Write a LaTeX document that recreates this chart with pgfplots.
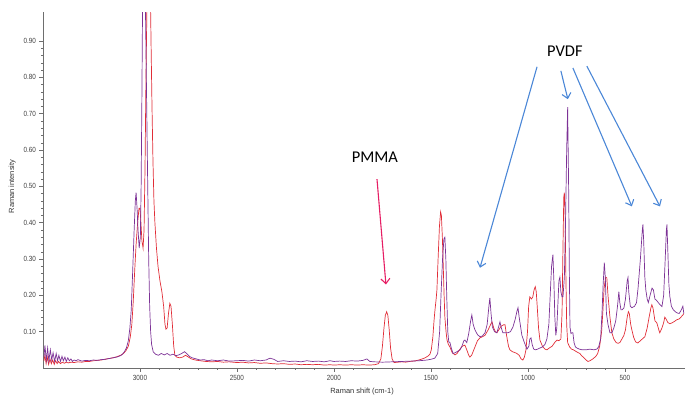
\documentclass[border=0pt]{standalone}
\usepackage{fontspec}
\setmainfont{Liberation Sans}
\newfontfamily\ticksfont[FakeStretch=0.85]{Liberation Sans}
\newfontfamily\annfont{Carlito}
\usepackage{pgfplots}
\pgfplotsset{compat=1.18}
\usetikzlibrary{arrows.meta}
\definecolor{specpurple}{RGB}{125,50,150}
\definecolor{specred}{RGB}{225,45,55}
\definecolor{arrowblue}{RGB}{75,135,215}
\definecolor{arrowpink}{RGB}{230,30,100}
\definecolor{axgray}{RGB}{110,110,110}

\pgfplotstableread{
x y
3495 0.020
3490 0.035
3484 0.012
3478 0.030
3471 0.010
3464 0.025
3457 0.012
3450 0.022
3442 0.010
3435 0.020
3427 0.012
3420 0.018
3410 0.012
3400 0.016
3390 0.013
3380 0.016
3370 0.014
3355 0.016
3340 0.015
3320 0.017
3300 0.016
3280 0.018
3260 0.018
3240 0.020
3220 0.021
3200 0.022
3180 0.024
3160 0.026
3140 0.028
3120 0.031
3100 0.035
3085 0.040
3072 0.048
3060 0.060
3050 0.085
3042 0.12
3035 0.18
3027 0.27
3020 0.34
3012 0.40
3005 0.44
3000 0.44
2995 0.40
2990 0.35
2984 0.33
2979 0.38
2974 0.55
2969 0.80
2964 1.00
2958 1.15
2953 1.20
2948 1.10
2943 0.90
2938 0.72
2933 0.57
2928 0.46
2923 0.40
2915 0.33
2907 0.28
2897 0.24
2887 0.21
2878 0.17
2871 0.12
2866 0.107
2860 0.11
2853 0.15
2846 0.178
2840 0.170
2833 0.12
2826 0.060
2820 0.035
2810 0.030
2795 0.028
2780 0.030
2765 0.035
2750 0.030
2735 0.025
2715 0.022
2690 0.020
2660 0.018
2630 0.017
2600 0.018
2570 0.016
2540 0.017
2500 0.015
2470 0.016
2440 0.014
2410 0.015
2380 0.013
2350 0.014
2320 0.012
2290 0.011
2260 0.012
2230 0.010
2200 0.011
2170 0.009
2140 0.010
2110 0.009
2080 0.010
2050 0.008
2020 0.009
2000 0.008
1970 0.009
1940 0.008
1910 0.009
1880 0.008
1850 0.009
1820 0.008
1790 0.009
1770 0.012
1758 0.025
1750 0.060
1742 0.110
1735 0.145
1728 0.155
1722 0.145
1715 0.105
1708 0.055
1700 0.025
1690 0.015
1670 0.016
1650 0.017
1630 0.016
1610 0.018
1590 0.019
1570 0.021
1550 0.024
1530 0.028
1515 0.033
1505 0.038
1498 0.050
1490 0.085
1484 0.130
1479 0.160
1473 0.190
1469 0.215
1463 0.300
1456 0.390
1450 0.430
1446 0.420
1441 0.360
1438 0.310
1432 0.200
1428 0.140
1422 0.100
1417 0.077
1410 0.065
1402 0.058
1390 0.042
1376 0.036
1365 0.040
1350 0.052
1338 0.060
1325 0.063
1315 0.050
1305 0.035
1299 0.030
1290 0.035
1275 0.055
1260 0.075
1247 0.083
1235 0.086
1221 0.090
1205 0.105
1192 0.120
1185 0.127
1176 0.110
1168 0.100
1160 0.097
1150 0.105
1138 0.115
1125 0.119
1118 0.119
1110 0.090
1100 0.060
1093 0.050
1080 0.045
1065 0.042
1057 0.040
1045 0.035
1035 0.025
1026 0.022
1018 0.030
1010 0.050
1002 0.100
996 0.170
990 0.196
982 0.190
975 0.195
968 0.215
962 0.224
957 0.210
952 0.170
945 0.110
938 0.077
925 0.060
912 0.052
902 0.050
890 0.055
875 0.060
862 0.070
850 0.077
840 0.075
830 0.080
824 0.150
820 0.300
815 0.470
812 0.483
808 0.420
804 0.250
800 0.120
795 0.070
785 0.058
775 0.052
765 0.050
750 0.045
740 0.042
732 0.040
725 0.035
715 0.030
700 0.022
690 0.018
680 0.020
665 0.025
650 0.032
640 0.040
630 0.060
620 0.100
613 0.160
607 0.220
599 0.250
593 0.248
587 0.200
577 0.140
567 0.097
557 0.080
545 0.070
535 0.068
526 0.070
515 0.080
505 0.090
497 0.105
488 0.140
482 0.155
477 0.150
470 0.120
464 0.105
455 0.085
445 0.072
433 0.069
420 0.075
410 0.080
397 0.086
385 0.110
375 0.140
366 0.165
361 0.174
355 0.165
345 0.130
335 0.124
325 0.105
320 0.097
309 0.110
300 0.125
294 0.140
288 0.135
278 0.125
268 0.122
258 0.124
245 0.128
232 0.133
220 0.135
211 0.140
201 0.146
196 0.150
}\redtable

\pgfplotstableread{
x y
3495 0.030
3490 0.062
3483 0.022
3476 0.055
3470 0.020
3462 0.050
3455 0.022
3448 0.042
3440 0.018
3432 0.040
3425 0.020
3418 0.035
3410 0.018
3402 0.032
3395 0.020
3387 0.030
3380 0.018
3372 0.028
3364 0.020
3356 0.025
3348 0.018
3340 0.022
3330 0.020
3320 0.023
3300 0.019
3280 0.021
3260 0.020
3240 0.022
3220 0.021
3200 0.023
3180 0.024
3160 0.026
3140 0.028
3120 0.030
3100 0.034
3090 0.038
3080 0.045
3070 0.055
3060 0.075
3052 0.11
3045 0.16
3038 0.26
3030 0.38
3024 0.46
3020 0.483
3015 0.44
3010 0.38
3004 0.33
2998 0.36
2994 0.50
2990 0.75
2986 1.05
2982 1.30
2978 1.25
2972 1.00
2966 0.75
2960 0.50
2955 0.30
2950 0.17
2945 0.10
2940 0.065
2932 0.045
2920 0.038
2905 0.035
2890 0.040
2875 0.036
2860 0.040
2845 0.035
2830 0.038
2815 0.034
2800 0.036
2785 0.040
2770 0.045
2760 0.040
2745 0.032
2730 0.028
2710 0.025
2690 0.022
2670 0.023
2650 0.020
2630 0.022
2600 0.020
2570 0.022
2540 0.019
2500 0.020
2470 0.021
2440 0.019
2410 0.022
2380 0.020
2350 0.022
2330 0.027
2310 0.024
2290 0.018
2260 0.020
2230 0.018
2200 0.019
2170 0.017
2140 0.020
2110 0.018
2080 0.019
2050 0.017
2020 0.020
2000 0.018
1970 0.019
1940 0.018
1910 0.020
1880 0.019
1850 0.021
1830 0.025
1815 0.018
1790 0.017
1750 0.016
1700 0.017
1650 0.018
1600 0.019
1560 0.020
1520 0.022
1500 0.024
1480 0.027
1465 0.040
1455 0.10
1448 0.20
1440 0.30
1433 0.355
1428 0.36
1423 0.30
1418 0.19
1413 0.10
1408 0.072
1402 0.07
1395 0.055
1386 0.040
1375 0.042
1362 0.046
1350 0.050
1340 0.060
1330 0.075
1325 0.077
1315 0.070
1305 0.095
1295 0.130
1289 0.146
1282 0.120
1273 0.105
1260 0.092
1247 0.086
1235 0.088
1221 0.097
1210 0.120
1200 0.175
1196 0.193
1190 0.150
1183 0.113
1172 0.100
1160 0.097
1150 0.115
1144 0.127
1137 0.110
1129 0.097
1115 0.097
1103 0.097
1090 0.100
1077 0.113
1065 0.135
1057 0.155
1051 0.166
1045 0.140
1031 0.090
1018 0.070
1005 0.052
995 0.060
990 0.080
984 0.083
978 0.065
970 0.052
960 0.050
950 0.052
938 0.055
925 0.058
912 0.065
902 0.080
892 0.120
885 0.200
878 0.280
871 0.312
866 0.240
861 0.140
856 0.090
851 0.110
845 0.180
840 0.240
835 0.250
830 0.210
824 0.196
819 0.196
812 0.250
806 0.400
800 0.600
795 0.718
790 0.500
786 0.250
783 0.113
778 0.095
772 0.097
768 0.097
762 0.070
755 0.058
747 0.055
735 0.052
720 0.050
700 0.050
680 0.052
660 0.050
645 0.052
635 0.058
625 0.080
618 0.150
612 0.230
606 0.290
601 0.250
595 0.150
587 0.120
577 0.097
567 0.097
557 0.110
547 0.130
538 0.170
531 0.210
526 0.180
520 0.160
515 0.160
505 0.165
497 0.190
488 0.240
484 0.249
480 0.210
472 0.170
464 0.166
450 0.170
440 0.180
432 0.220
420 0.300
410 0.380
407 0.395
403 0.350
397 0.250
392 0.215
385 0.190
379 0.180
370 0.200
360 0.220
353 0.215
345 0.190
335 0.185
320 0.175
309 0.169
300 0.200
292 0.300
286 0.380
283 0.395
279 0.330
273 0.230
268 0.196
260 0.170
250 0.160
240 0.155
232 0.152
220 0.150
211 0.158
205 0.165
201 0.170
196 0.150
}\purpletable

\begin{document}
\begin{tikzpicture}
\useasboundingbox (-43bp,-36bp) rectangle (648bp,368bp);
\begin{axis}[
  at={(0,0)}, anchor=south west,
  scale only axis, width=642bp, height=356bp,
  x dir=reverse,
  xmin=190, xmax=3500, ymin=0, ymax=0.98,
  axis x line=bottom, axis y line=left,
  axis line style={-, axgray, line width=0.6bp},
  tick align=outside,
  major tick length=3.5bp, minor tick length=2bp,
  every tick/.style={axgray, line width=0.5bp},
  xtick={500,1000,1500,2000,2500,3000}, minor x tick num=4,
  ytick={0.1,0.2,0.3,0.4,0.5,0.6,0.7,0.8,0.9}, minor y tick num=4,
  /pgf/number format/assume math mode=true,
  tick label style={font=\ticksfont\fontsize{7.5}{9}\selectfont, text=black!75},
  yticklabel style={/pgf/number format/.cd, fixed, fixed zerofill, precision=2},
  xticklabel style={/pgf/number format/1000 sep={}},
  every axis x label/.style={at={(axis description cs:0.497,-0.067)}, anchor=center},
  every axis y label/.style={at={(axis description cs:-0.048,0.51)}, rotate=90, anchor=center},
  label style={font=\fontsize{7.5}{9}\selectfont, text=black!80},
  xlabel={Raman shift (cm-1)},
  ylabel={Raman intensity},
]
\addplot[specred, line width=0.7bp] table[x=x,y=y] {\redtable};
\addplot[specpurple, line width=0.7bp] table[x=x,y=y] {\purpletable};

\node[font=\annfont\fontsize{16.5}{18}\selectfont] at (axis cs:1789,0.58) {PMMA};
\draw[arrowpink, line width=1.1bp, -{Straight Barb[length=5bp,width=9bp]}] (axis cs:1778,0.52) -- (axis cs:1732,0.23);

\node[font=\annfont\fontsize{16.5}{18}\selectfont] at (axis cs:809,0.873) {PVDF};
\draw[arrowblue, line width=1.1bp, -{Straight Barb[length=5bp,width=9bp]}] (axis cs:953,0.829) -- (axis cs:1247,0.276);
\draw[arrowblue, line width=1.1bp, -{Straight Barb[length=5bp,width=9bp]}] (axis cs:830,0.818) -- (axis cs:794,0.74);
\draw[arrowblue, line width=1.1bp, -{Straight Barb[length=5bp,width=9bp]}] (axis cs:768,0.826) -- (axis cs:464,0.445);
\draw[arrowblue, line width=1.1bp, -{Straight Barb[length=5bp,width=9bp]}] (axis cs:696,0.831) -- (axis cs:319,0.445);
\end{axis}
\end{tikzpicture}
\end{document}
